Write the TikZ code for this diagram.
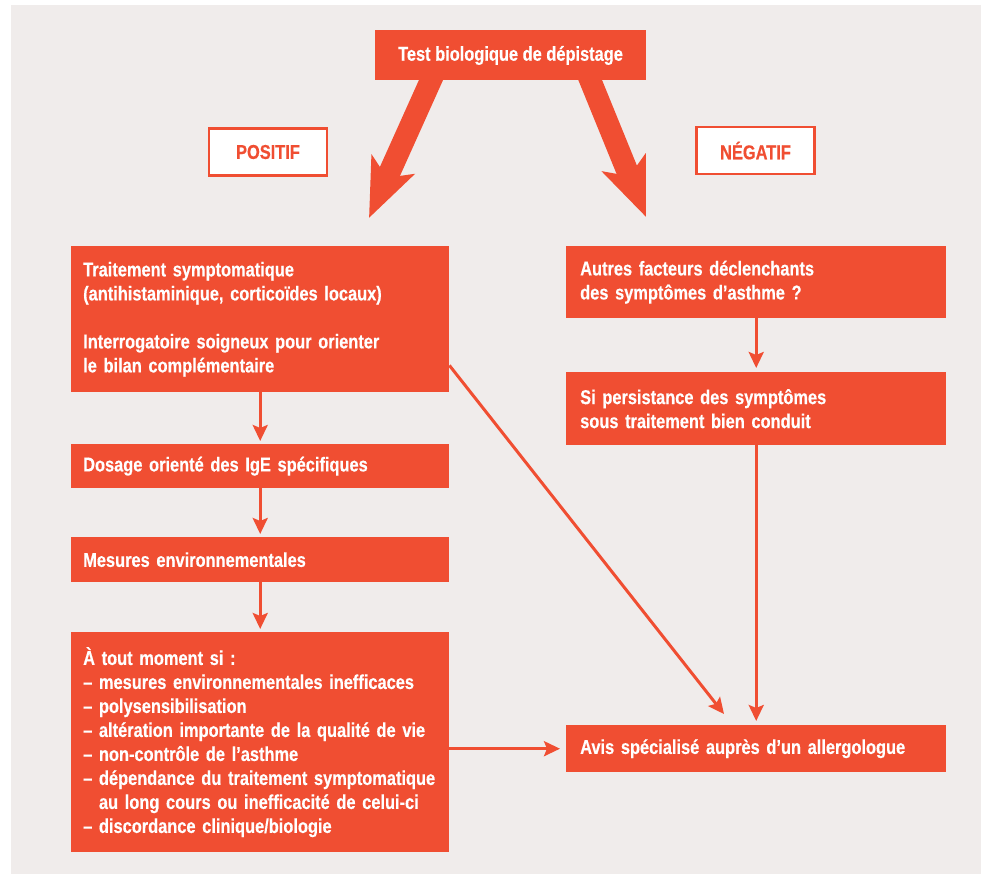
\documentclass[tikz,border=0pt]{standalone}
\usepackage{fontspec}
\setmainfont{Liberation Sans}
\newfontfamily\condfont{Liberation Sans}[FakeStretch=0.82,BoldFeatures={FakeBold=0.4}]
\usetikzlibrary{arrows.meta,calc}
\definecolor{flow}{HTML}{F04E32}
\definecolor{paper}{HTML}{F0ECEB}
\pgfdeclarelayer{back}
\pgfsetlayers{back,main}
\begin{document}
\begin{tikzpicture}[x=1pt,y=-1pt,
  every node/.style={font=\condfont\bfseries\fontsize{20}{24}\selectfont},
  box/.style n args={2}{fill=flow, text=white, anchor=north west,
    inner xsep=#2, inner ysep=0pt, align=left,
    text width=#1, minimum width=#1+2*#2},
  label/.style={draw=flow, line width=2.5pt, fill=white, text=flow,
    minimum width=118pt, minimum height=47pt, inner sep=0pt},
  link/.style={draw=flow, line width=3pt,
    -{Stealth[length=16pt,width=15pt,inset=3pt]}},
  bigarrow/.style={draw=flow, line width=22pt,
    -{Stealth[length=58pt,width=46pt,inset=14pt]}}]
\useasboundingbox (0,0) rectangle (981,874);

% title box
\node[fill=flow, text=white, minimum width=271pt, minimum height=50pt,
  inner sep=0pt] (top) at (510.5,55.5) {Test biologique de dépistage};

% branch labels
\node[label] (pos) at (268,152) {POSITIF};
\node[label] (neg) at (755.5,150.5) {NÉGATIF};

% positive branch
\node[box={354pt}{12pt}, minimum height=146pt] (b1) at (71,246)
  {Traitement symptomatique\\(antihistaminique, corticoïdes locaux)\\[24pt]%
   Interrogatoire soigneux pour orienter\\le bilan complémentaire};
\node[box={354pt}{12pt}, minimum height=44pt] (b2) at (71,444)
  {Dosage orienté des IgE spécifiques};
\node[box={354pt}{12pt}, minimum height=45pt] (b3) at (71,537)
  {Mesures environnementales};
\node[box={354pt}{12pt}, minimum height=220pt] (b4) at (71,632)
  {À tout moment si :\\
   – mesures environnementales inefficaces\\
   – polysensibilisation\\
   – altération importante de la qualité de vie\\
   – non-contrôle de l’asthme\\
   – dépendance du traitement symptomatique\\
   \hphantom{– }au long cours ou inefficacité de celui-ci\\
   – discordance clinique/biologie};

% negative branch
\node[box={352pt}{14pt}, minimum height=72pt] (na) at (566,246)
  {Autres facteurs déclenchants\\des symptômes d’asthme ?};
\node[box={352pt}{14pt}, minimum height=73pt] (nb) at (566,372)
  {Si persistance des symptômes\\sous traitement bien conduit};
\node[box={352pt}{14pt}, minimum height=47pt] (avis) at (566,725)
  {Avis spécialisé auprès d’un allergologue};

% connectors
\draw[link, shorten >=3pt] (b1) -- (b2);
\draw[link, shorten >=3pt] (b2) -- (b3);
\draw[link, shorten >=3pt] (b3) -- (b4);
\draw[link, shorten >=4pt] (na) -- (nb);
\draw[link, shorten >=4pt] (nb) -- (avis);
\coordinate (d1) at ($(b1.south east)+(0,-27)$);
\coordinate (d2) at ($(avis.north west)+(158,-11)$);
\draw[link] (d1) -- (d2);
\draw[link, shorten >=6pt] (b4.east |- avis) -- (avis);

% background and the two wide arrows out of the title box
\coordinate (tl) at (440,60);
\coordinate (tlend) at (369,218);
\coordinate (tr) at (582,60);
\coordinate (trend) at (646,217);
\begin{pgfonlayer}{back}
  \fill[paper] (11,5) rectangle (981,874);
  \draw[bigarrow] (tl) -- (tlend);
  \draw[bigarrow] (tr) -- (trend);
\end{pgfonlayer}
\end{tikzpicture}
\end{document}
